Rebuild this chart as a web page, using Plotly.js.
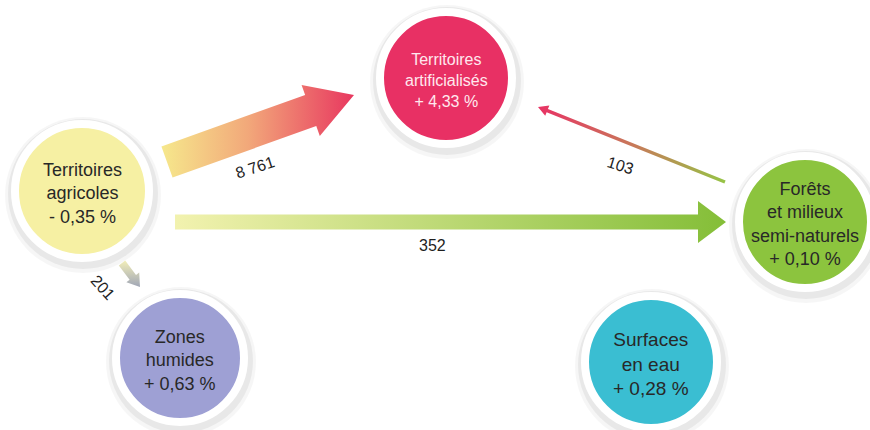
<!DOCTYPE html>
<html>
<head>
<meta charset="utf-8">
<script src="https://cdn.plot.ly/plotly-3.0.1.min.js"></script>
<style>html,body{margin:0;padding:0;background:#fff;}#chart{width:870px;height:430px;}</style>
</head>
<body>
<div id="chart"></div>
<script>
// ---- data ----
const nodeNames = ["Territoires<br>agricoles", "Territoires<br>artificialisés", "Forêts<br>et milieux<br>semi-naturels", "Zones<br>humides", "Surfaces<br>en eau"];
const nodeChange = ["- 0,35 %", "+ 4,33 %", "+ 0,10 %", "+ 0,63 %", "+ 0,28 %"];
const flowFrom = [0, 0, 2, 0];
const flowTo = [1, 2, 1, 3];
const flowLabels = ["8 761", "352", "103", "201"];

// ---- diagram geometry (layout) ----
const nodeX = [82, 446, 805, 180, 651];
const nodeY = [191, 78, 222, 358, 362];
const nodeSize = [134, 132, 132, 128, 132];
const nodeColor = ["rgb(246,240,163)", "rgb(232,48,100)", "rgb(140,196,62)", "rgb(158,160,212)", "rgb(58,190,210)"];
const nodeTextColor = ["rgb(40,40,40)", "rgb(255,232,238)", "rgb(40,40,40)", "rgb(40,40,40)", "rgb(40,40,40)"];
const nodeFont = [18, 16, 18, 18, 19];

// tail / tip anchor offsets relative to source / target node centres
const tailDX = [85, 93, -80, 40], tailDY = [-29, 31, -40, 72];
const tipDX = [-92, -79, 92, -40], tipDY = [17, 0, 29, -71];
const bodyW = [33, 15, 3.5, 8], headW = [54, 42, 11, 16], headL = [46, 28, 10, 12];
const labelDX = [-6, -18, -11, -28], labelDY = [39, 23, 21, 12];
const labelAngle = [-18, 0, 17, 48];
const flowGrad = [
  {type: "horizontal", colorscale: [[0, "rgb(246,232,140)"], [0.45, "rgb(242,168,122)"], [1, "rgb(232,55,95)"]]},
  {type: "horizontal", colorscale: [[0, "rgb(242,242,175)"], [1, "rgb(132,190,56)"]]},
  {type: "horizontal", colorscale: [[0, "rgb(232,50,100)"], [0.5, "rgb(200,120,90)"], [1, "rgb(150,196,70)"]]},
  {type: "vertical", colorscale: [[0, "rgb(160,166,182)"], [1, "rgb(242,238,185)"]]}
];

function arrowPoly(x0, y0, x1, y1, bw, hw, hl) {
  const dx = x1 - x0, dy = y1 - y0, L = Math.hypot(dx, dy);
  const ux = dx / L, uy = dy / L, nx = -uy, ny = ux;
  const bx = x1 - ux * hl, by = y1 - uy * hl;
  const pts = [
    [x0 + nx * bw / 2, y0 + ny * bw / 2],
    [bx + nx * bw / 2, by + ny * bw / 2],
    [bx + nx * hw / 2, by + ny * hw / 2],
    [x1, y1],
    [bx - nx * hw / 2, by - ny * hw / 2],
    [bx - nx * bw / 2, by - ny * bw / 2],
    [x0 - nx * bw / 2, y0 - ny * bw / 2],
    [x0 + nx * bw / 2, y0 + ny * bw / 2]
  ];
  return {x: pts.map(p => p[0]), y: pts.map(p => p[1])};
}

const traces = [];
const annotations = [];

flowFrom.forEach((s, i) => {
  const t = flowTo[i];
  const x0 = nodeX[s] + tailDX[i], y0 = nodeY[s] + tailDY[i];
  const x1 = nodeX[t] + tipDX[i], y1 = nodeY[t] + tipDY[i];
  const p = arrowPoly(x0, y0, x1, y1, bodyW[i], headW[i], headL[i]);
  traces.push({
    type: "scatter", mode: "lines", x: p.x, y: p.y,
    fill: "toself", fillgradient: flowGrad[i],
    line: {width: 0, color: "rgba(0,0,0,0)"}, hoverinfo: "skip"
  });
  annotations.push({
    x: (x0 + x1) / 2 + labelDX[i], y: (y0 + y1) / 2 + labelDY[i],
    xref: "x", yref: "y", showarrow: false, text: flowLabels[i],
    textangle: labelAngle[i],
    font: {family: "Liberation Sans, Arial, sans-serif", size: 16, color: "rgb(30,30,30)"}
  });
});

// soft shadows
traces.push({
  type: "scatter", mode: "markers", x: nodeX.map(v => v + 1), y: nodeY.map(v => v + 4),
  marker: {size: nodeSize.map(s => s + 22), color: "rgba(0,0,0,0.035)", opacity: 1, line: {width: 0}}, hoverinfo: "skip"
});
traces.push({
  type: "scatter", mode: "markers", x: nodeX.map(v => v + 1), y: nodeY.map(v => v + 3),
  marker: {size: nodeSize.map(s => s + 16), color: "rgba(0,0,0,0.055)", opacity: 1, line: {width: 0}}, hoverinfo: "skip"
});
// circles
traces.push({
  type: "scatter", mode: "markers", x: nodeX, y: nodeY,
  marker: {size: nodeSize, color: nodeColor, opacity: 1, line: {width: 8, color: "#ffffff"}}, hoverinfo: "skip"
});

nodeNames.forEach((n, i) => {
  annotations.push({
    x: nodeX[i], y: nodeY[i] + 2, xref: "x", yref: "y", showarrow: false,
    text: n + "<br>" + nodeChange[i], align: "center",
    font: {family: "Liberation Sans, Arial, sans-serif", size: nodeFont[i], color: nodeTextColor[i]}
  });
});

const layout = {
  width: 870, height: 430,
  margin: {l: 0, r: 0, t: 0, b: 0},
  paper_bgcolor: "#ffffff", plot_bgcolor: "#ffffff",
  showlegend: false, hovermode: false,
  xaxis: {range: [0, 870], visible: false, fixedrange: true},
  yaxis: {range: [430, 0], visible: false, fixedrange: true},
  annotations: annotations
};

Plotly.newPlot("chart", traces, layout, {displayModeBar: false, staticPlot: true});
</script>
</body>
</html>
